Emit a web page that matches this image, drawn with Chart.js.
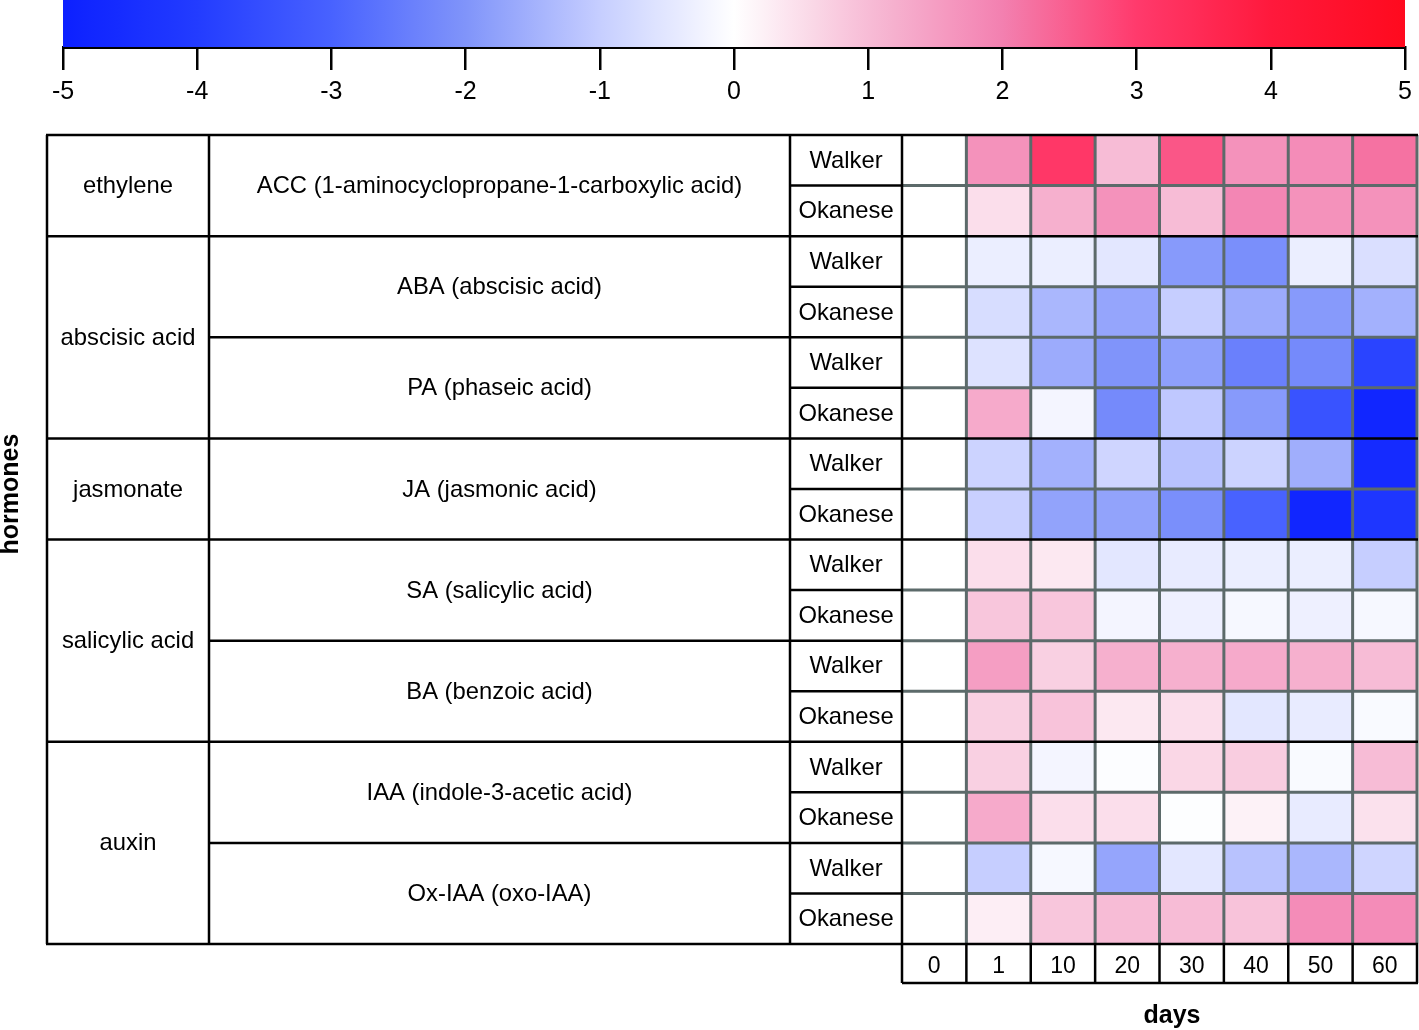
<!DOCTYPE html>
<html>
<head>
<meta charset="utf-8">
<script src="https://cdn.jsdelivr.net/npm/chart.js@4.4.1/dist/chart.umd.min.js"></script>
<style>
  body { margin: 0; background: #fff; }
  #wrap { position: relative; width: 1419px; height: 1030px; }
  canvas { position: absolute; left: 0; top: 0; }
</style>
</head>
<body>
<div id="wrap">
  <canvas id="heat" width="1419" height="1030"></canvas>
  <canvas id="scale" width="1419" height="130"></canvas>
</div>
<script>
// days after treatment (columns)
const days = ['0', '1', '10', '20', '30', '40', '50', '60'];

// row labels
const cultivars = ['Walker', 'Okanese'];
const compounds = ['ACC (1-aminocyclopropane-1-carboxylic acid)', 'ABA (abscisic acid)', 'PA (phaseic acid)',
  'JA (jasmonic acid)', 'SA (salicylic acid)', 'BA (benzoic acid)', 'IAA (indole-3-acetic acid)', 'Ox-IAA (oxo-IAA)'];
const groups = ['ethylene', 'abscisic acid', 'jasmonate', 'salicylic acid', 'auxin'];
const groupSizes = [1, 2, 1, 2, 2]; // compounds per hormone group

// log2 fold change, one array per compound / cultivar (estimated from colours)
const accWalker    = [0, 1.7, 3.1, 1.0, 2.6, 1.7, 1.8, 2.2];
const accOkanese   = [0, 0.5, 1.2, 1.7, 1.0, 1.9, 1.7, 1.7];
const abaWalker    = [0, -0.35, -0.35, -0.5, -1.9, -2.1, -0.35, -0.65];
const abaOkanese   = [0, -0.7, -1.4, -1.7, -1.0, -1.6, -1.9, -1.5];
const paWalker     = [0, -0.6, -1.6, -2.0, -1.8, -2.4, -2.2, -3.8];
const paOkanese    = [0, 1.3, -0.2, -2.2, -1.1, -1.9, -3.4, -4.8];
const jaWalker     = [0, -0.9, -1.5, -0.85, -1.2, -0.9, -1.55, -4.6];
const jaOkanese    = [0, -0.95, -1.75, -1.75, -2.1, -3.0, -4.8, -4.2];
const saWalker     = [0, 0.5, 0.35, -0.5, -0.4, -0.35, -0.35, -1.0];
const saOkanese    = [0, 0.85, 0.85, -0.2, -0.3, -0.15, -0.3, -0.15];
const baWalker     = [0, 1.5, 0.7, 1.2, 1.2, 1.3, 1.2, 1.0];
const baOkanese    = [0, 0.7, 0.9, 0.35, 0.5, -0.5, -0.4, -0.1];
const iaaWalker    = [0, 0.7, -0.2, -0.05, 0.6, 0.75, -0.1, 1.0];
const iaaOkanese   = [0, 1.3, 0.5, 0.5, -0.03, 0.2, -0.4, 0.45];
const oxiaaWalker  = [0, -1.0, -0.15, -1.7, -0.5, -1.2, -1.4, -0.85];
const oxiaaOkanese = [0, 0.25, 0.85, 1.0, 1.0, 0.9, 1.8, 1.8];

const rows = [accWalker, accOkanese, abaWalker, abaOkanese, paWalker, paOkanese, jaWalker, jaOkanese,
  saWalker, saOkanese, baWalker, baOkanese, iaaWalker, iaaOkanese, oxiaaWalker, oxiaaOkanese];

// colour scale -5..5 (blue - white - red)
const posStops = [[0, [255, 255, 255]], [1, [247, 188, 214]], [2, [243, 128, 176]], [3, [255, 58, 108]], [4, [255, 25, 60]], [5, [255, 10, 30]]];
const negStops = [[0, [255, 255, 255]], [1, [198, 206, 255]], [2, [128, 148, 250]], [3, [72, 98, 255]], [4, [35, 60, 255]], [5, [12, 32, 255]]];

function valueColor(v) {
  const stops = v >= 0 ? posStops : negStops;
  const a = Math.min(Math.abs(v), 5);
  for (let i = 1; i < stops.length; i++) {
    if (a <= stops[i][0]) {
      const [p0, c0] = stops[i - 1];
      const [p1, c1] = stops[i];
      const t = (a - p0) / (p1 - p0);
      const c = c0.map((x, k) => Math.round(x + (c1[k] - x) * t));
      return `rgb(${c[0]}, ${c[1]}, ${c[2]})`;
    }
  }
  const c = stops[stops.length - 1][1];
  return `rgb(${c[0]}, ${c[1]}, ${c[2]})`;
}

const FONT = '"Liberation Sans", Arial, sans-serif';
const GRID_GRAY = '#5c6a6a';

// ---------- colour bar ----------
new Chart(document.getElementById('scale'), {
  type: 'bar',
  data: {
    labels: ['scale'],
    datasets: [{
      data: [[-5, 5]],
      borderWidth: 0,
      barPercentage: 1,
      categoryPercentage: 1,
      backgroundColor: (ctx) => {
        const area = ctx.chart.chartArea;
        if (!area) return '#fff';
        const g = ctx.chart.ctx.createLinearGradient(area.left, 0, area.right, 0);
        for (let i = 0; i <= 50; i++) {
          g.addColorStop(i / 50, valueColor(-5 + i / 5));
        }
        return g;
      }
    }]
  },
  options: {
    indexAxis: 'y',
    responsive: false,
    animation: false,
    layout: { padding: { left: 63, right: 11, top: 0, bottom: 23 } },
    plugins: { legend: { display: false }, tooltip: { enabled: false } },
    scales: {
      x: {
        type: 'linear', min: -5, max: 5, z: 1,
        afterFit: (scale) => { scale.height = 60; },
        border: { display: true, color: '#000', width: 3 },
        grid: { drawOnChartArea: false, drawTicks: true, tickLength: 23, lineWidth: 2.5, color: '#000' },
        ticks: { stepSize: 1, color: '#000', padding: 7, font: { family: FONT, size: 25 } }
      },
      y: { display: false }
    }
  }
});

// ---------- heatmap with label table ----------
const tablePlugin = {
  id: 'hormoneTable',
  afterDatasetsDraw(chart) {
    const ctx = chart.ctx;
    const xs = chart.scales.x;
    const ys = chart.scales.y;
    const rowY = (k) => ys.getPixelForValue(k);
    const colX = (j) => xs.getPixelForValue(j - 0.5);
    const xL = 47, xC = 209, xV = 790, xH = colX(0), xR = colX(days.length);
    const top = rowY(0), bottom = rowY(rows.length);
    const dayBottom = 983;

    // group boundaries (row index)
    const groupEdges = [0];
    groupSizes.forEach(n => groupEdges.push(groupEdges[groupEdges.length - 1] + n * 2));

    ctx.save();
    ctx.lineCap = 'butt';

    // gray heatmap grid
    ctx.strokeStyle = GRID_GRAY;
    ctx.lineWidth = 3;
    for (let k = 1; k < rows.length; k++) {
      if (groupEdges.includes(k)) continue;
      ctx.beginPath(); ctx.moveTo(xH, rowY(k)); ctx.lineTo(xR, rowY(k)); ctx.stroke();
    }
    for (let j = 1; j <= days.length; j++) {
      ctx.beginPath(); ctx.moveTo(colX(j), top); ctx.lineTo(colX(j), bottom); ctx.stroke();
    }

    // black table lines
    ctx.strokeStyle = '#000';
    ctx.lineWidth = 2.5;
    const hline = (x0, x1, y) => { ctx.beginPath(); ctx.moveTo(x0, y); ctx.lineTo(x1, y); ctx.stroke(); };
    const vline = (x, y0, y1) => { ctx.beginPath(); ctx.moveTo(x, y0); ctx.lineTo(x, y1); ctx.stroke(); };
    for (let k = 0; k <= rows.length; k++) {
      const y = rowY(k);
      hline(xV, xH, y);
      if (k % 2 === 0) hline(xC, xV, y);
      if (groupEdges.includes(k)) { hline(xL - 1, xC, y); hline(xH, xR + 1, y); }
    }
    vline(xL, top, bottom);
    vline(xC, top, bottom);
    vline(xV, top, bottom);
    vline(xH, top, dayBottom);
    hline(xH, xR + 1, dayBottom);
    for (let j = 1; j <= days.length; j++) vline(colX(j), bottom, dayBottom);

    // labels
    ctx.fillStyle = '#000';
    ctx.textAlign = 'center';
    ctx.textBaseline = 'middle';
    ctx.font = `23.8px ${FONT}`;
    for (let k = 0; k < rows.length; k++) {
      ctx.fillText(cultivars[k % 2], (xV + xH) / 2, (rowY(k) + rowY(k + 1)) / 2 + 1);
    }
    compounds.forEach((name, i) => {
      ctx.fillText(name, (xC + xV) / 2, (rowY(i * 2) + rowY(i * 2 + 2)) / 2 + 1);
    });
    groups.forEach((name, i) => {
      ctx.fillText(name, (xL + xC) / 2, (rowY(groupEdges[i]) + rowY(groupEdges[i + 1])) / 2 + 1);
    });

    // axis titles
    ctx.font = `bold 25px ${FONT}`;
    ctx.fillText('days', 1172, 1016);
    ctx.save();
    ctx.translate(11, 494);
    ctx.rotate(-Math.PI / 2);
    ctx.fillText('hormones', 0, 0);
    ctx.restore();

    ctx.restore();
  }
};

new Chart(document.getElementById('heat'), {
  type: 'bar',
  data: {
    labels: days,
    datasets: rows.map((vals, k) => ({
      label: compounds[Math.floor(k / 2)] + ' ' + cultivars[k % 2],
      data: days.map(() => 1),
      backgroundColor: vals.map(valueColor),
      borderWidth: 0,
      barPercentage: 1,
      categoryPercentage: 1
    }))
  },
  options: {
    responsive: false,
    animation: false,
    layout: { padding: { left: 902, right: 2, top: 135, bottom: 47 } },
    plugins: { legend: { display: false }, tooltip: { enabled: false } },
    scales: {
      x: {
        stacked: true,
        afterFit: (scale) => { scale.height = 39; },
        border: { display: false },
        grid: { display: false, drawTicks: false },
        ticks: { color: '#000', padding: 9, maxRotation: 0, font: { family: FONT, size: 23 } }
      },
      y: { stacked: true, reverse: true, min: 0, max: rows.length, display: false }
    }
  },
  plugins: [tablePlugin]
});
</script>
</body>
</html>
